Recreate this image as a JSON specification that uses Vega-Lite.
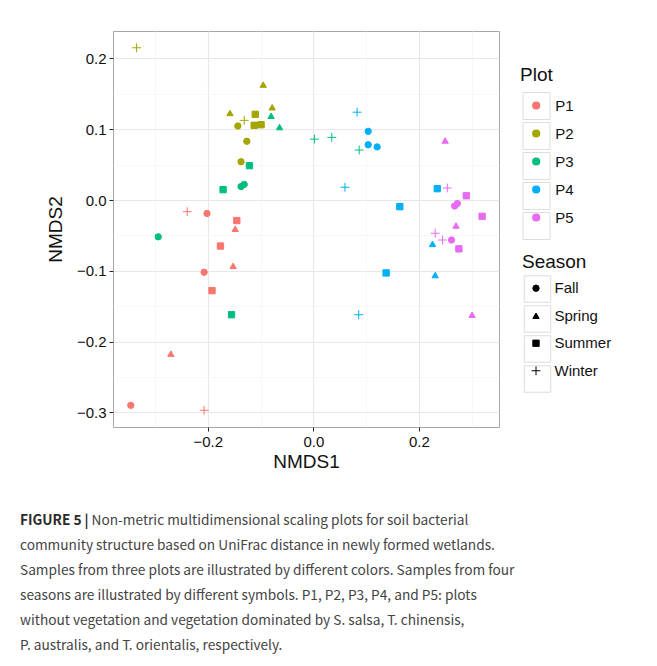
{
  "$schema": "https://vega.github.io/schema/vega-lite/v6.json",
  "width": 386,
  "height": 396,
  "autosize": {"type": "none"},
  "padding": {"left": 113, "top": 31, "right": 158, "bottom": 239},
  "background": "white",
  "config": {
    "font": "Liberation Sans",
    "view": {"stroke": "#a6a6a6", "strokeWidth": 1}
  },
  "title": {
    "text": "FIGURE 5 |",
    "subtitle": [
      "\u200b\u3000\u3000\u3000\u3000\u3000\u00a0Non-metric multidimensional scaling plots for soil bacterial",
      "community structure based on UniFrac distance in newly formed wetlands.",
      "Samples from three plots are illustrated by different colors. Samples from four",
      "seasons are illustrated by different symbols. P1, P2, P3, P4, and P5: plots",
      "without vegetation and vegetation dominated by S. salsa, T. chinensis,",
      "P. australis, and T. orientalis, respectively."
    ],
    "orient": "bottom",
    "anchor": "start",
    "frame": "group",
    "dx": -93,
    "offset": 43,
    "font": "Noto Sans CJK SC",
    "fontSize": 13.7,
    "fontWeight": "bold",
    "color": "#2a2a2a",
    "subtitleFont": "Noto Sans CJK SC",
    "subtitleFontSize": 13.7,
    "subtitleFontWeight": "normal",
    "subtitleColor": "#444444",
    "subtitleLineHeight": 25,
    "subtitlePadding": -13.7
  },
  "data": {
    "values": [
      {"NMDS1": -0.239, "NMDS2": -0.0165, "Plot": "P1", "Season": "Winter"},
      {"NMDS1": -0.2015, "NMDS2": -0.019, "Plot": "P1", "Season": "Fall"},
      {"NMDS1": -0.145, "NMDS2": -0.029, "Plot": "P1", "Season": "Summer"},
      {"NMDS1": -0.148, "NMDS2": -0.0405, "Plot": "P1", "Season": "Spring"},
      {"NMDS1": -0.176, "NMDS2": -0.065, "Plot": "P1", "Season": "Summer"},
      {"NMDS1": -0.152, "NMDS2": -0.093, "Plot": "P1", "Season": "Spring"},
      {"NMDS1": -0.207, "NMDS2": -0.102, "Plot": "P1", "Season": "Fall"},
      {"NMDS1": -0.192, "NMDS2": -0.128, "Plot": "P1", "Season": "Summer"},
      {"NMDS1": -0.27, "NMDS2": -0.217, "Plot": "P1", "Season": "Spring"},
      {"NMDS1": -0.346, "NMDS2": -0.29, "Plot": "P1", "Season": "Fall"},
      {"NMDS1": -0.207, "NMDS2": -0.297, "Plot": "P1", "Season": "Winter"},
      {"NMDS1": -0.335, "NMDS2": 0.215, "Plot": "P2", "Season": "Winter"},
      {"NMDS1": -0.131, "NMDS2": 0.1125, "Plot": "P2", "Season": "Winter"},
      {"NMDS1": -0.095, "NMDS2": 0.163, "Plot": "P2", "Season": "Spring"},
      {"NMDS1": -0.078, "NMDS2": 0.131, "Plot": "P2", "Season": "Spring"},
      {"NMDS1": -0.158, "NMDS2": 0.123, "Plot": "P2", "Season": "Spring"},
      {"NMDS1": -0.11, "NMDS2": 0.121, "Plot": "P2", "Season": "Summer"},
      {"NMDS1": -0.112, "NMDS2": 0.1055, "Plot": "P2", "Season": "Summer"},
      {"NMDS1": -0.099, "NMDS2": 0.1064, "Plot": "P2", "Season": "Summer"},
      {"NMDS1": -0.143, "NMDS2": 0.1045, "Plot": "P2", "Season": "Fall"},
      {"NMDS1": -0.126, "NMDS2": 0.083, "Plot": "P2", "Season": "Fall"},
      {"NMDS1": -0.137, "NMDS2": 0.054, "Plot": "P2", "Season": "Fall"},
      {"NMDS1": -0.08, "NMDS2": 0.119, "Plot": "P3", "Season": "Spring"},
      {"NMDS1": -0.064, "NMDS2": 0.103, "Plot": "P3", "Season": "Spring"},
      {"NMDS1": -0.121, "NMDS2": 0.0485, "Plot": "P3", "Season": "Summer"},
      {"NMDS1": -0.171, "NMDS2": 0.0146, "Plot": "P3", "Season": "Summer"},
      {"NMDS1": -0.155, "NMDS2": -0.162, "Plot": "P3", "Season": "Summer"},
      {"NMDS1": -0.137, "NMDS2": 0.019, "Plot": "P3", "Season": "Fall"},
      {"NMDS1": -0.131, "NMDS2": 0.022, "Plot": "P3", "Season": "Fall"},
      {"NMDS1": -0.294, "NMDS2": -0.052, "Plot": "P3", "Season": "Fall"},
      {"NMDS1": 0.002, "NMDS2": 0.086, "Plot": "P3", "Season": "Winter"},
      {"NMDS1": 0.035, "NMDS2": 0.0885, "Plot": "P3", "Season": "Winter"},
      {"NMDS1": 0.087, "NMDS2": 0.0706, "Plot": "P3", "Season": "Winter"},
      {"NMDS1": 0.083, "NMDS2": 0.124, "Plot": "P4", "Season": "Winter"},
      {"NMDS1": 0.06, "NMDS2": 0.018, "Plot": "P4", "Season": "Winter"},
      {"NMDS1": 0.086, "NMDS2": -0.162, "Plot": "P4", "Season": "Winter"},
      {"NMDS1": 0.104, "NMDS2": 0.097, "Plot": "P4", "Season": "Fall"},
      {"NMDS1": 0.104, "NMDS2": 0.078, "Plot": "P4", "Season": "Fall"},
      {"NMDS1": 0.121, "NMDS2": 0.075, "Plot": "P4", "Season": "Fall"},
      {"NMDS1": 0.235, "NMDS2": 0.016, "Plot": "P4", "Season": "Summer"},
      {"NMDS1": 0.164, "NMDS2": -0.0094, "Plot": "P4", "Season": "Summer"},
      {"NMDS1": 0.138, "NMDS2": -0.103, "Plot": "P4", "Season": "Summer"},
      {"NMDS1": 0.226, "NMDS2": -0.062, "Plot": "P4", "Season": "Spring"},
      {"NMDS1": 0.231, "NMDS2": -0.106, "Plot": "P4", "Season": "Spring"},
      {"NMDS1": 0.25, "NMDS2": 0.084, "Plot": "P5", "Season": "Spring"},
      {"NMDS1": 0.2705, "NMDS2": -0.036, "Plot": "P5", "Season": "Spring"},
      {"NMDS1": 0.301, "NMDS2": -0.162, "Plot": "P5", "Season": "Spring"},
      {"NMDS1": 0.254, "NMDS2": 0.017, "Plot": "P5", "Season": "Winter"},
      {"NMDS1": 0.231, "NMDS2": -0.047, "Plot": "P5", "Season": "Winter"},
      {"NMDS1": 0.245, "NMDS2": -0.0565, "Plot": "P5", "Season": "Winter"},
      {"NMDS1": 0.268, "NMDS2": -0.0085, "Plot": "P5", "Season": "Fall"},
      {"NMDS1": 0.273, "NMDS2": -0.005, "Plot": "P5", "Season": "Fall"},
      {"NMDS1": 0.262, "NMDS2": -0.0565, "Plot": "P5", "Season": "Fall"},
      {"NMDS1": 0.29, "NMDS2": 0.006, "Plot": "P5", "Season": "Summer"},
      {"NMDS1": 0.32, "NMDS2": -0.023, "Plot": "P5", "Season": "Summer"},
      {"NMDS1": 0.276, "NMDS2": -0.069, "Plot": "P5", "Season": "Summer"}
    ]
  },
  "layer": [
    {
      "mark": {"type": "point", "filled": true, "size": 40, "strokeWidth": 1, "opacity": 1},
      "encoding": {
        "x": {
          "field": "NMDS1",
          "type": "quantitative",
          "scale": {"domain": [-0.3797, 0.352], "nice": false, "zero": false},
          "axis": {
            "title": "NMDS1",
            "values": [-0.3, -0.2, -0.1, 0, 0.1, 0.2, 0.3],
            "labelExpr": "abs(round(datum.value*10)) % 2 == 0 ? format(datum.value, '.1f') : ''",
            "domain": false,
            "grid": true,
            "gridColor": {"condition": {"test": "abs(round(datum.value*10)) % 2 == 0", "value": "#e8e8e8"}, "value": "#f3f3f3"},
            "gridWidth": {"condition": {"test": "abs(round(datum.value*10)) % 2 == 0", "value": 1.2}, "value": 0.7},
            "tickOpacity": {"condition": {"test": "abs(round(datum.value*10)) % 2 == 0", "value": 1}, "value": 0},
            "tickColor": "#222222",
            "tickSize": 4,
            "labelFontSize": 15,
            "labelColor": "#111111",
            "labelPadding": 3,
            "titleFontSize": 19,
            "titleFontWeight": "normal",
            "titleColor": "#111111",
            "titlePadding": 3
          }
        },
        "y": {
          "field": "NMDS2",
          "type": "quantitative",
          "scale": {"domain": [-0.3206, 0.2387], "nice": false, "zero": false},
          "axis": {
            "title": "NMDS2",
            "values": [-0.3, -0.25, -0.2, -0.15, -0.1, -0.05, 0, 0.05, 0.1, 0.15, 0.2],
            "labelExpr": "abs(round(datum.value*20)) % 2 == 0 ? format(datum.value, '.1f') : ''",
            "domain": false,
            "grid": true,
            "gridColor": {"condition": {"test": "abs(round(datum.value*20)) % 2 == 0", "value": "#e8e8e8"}, "value": "#f3f3f3"},
            "gridWidth": {"condition": {"test": "abs(round(datum.value*20)) % 2 == 0", "value": 1.2}, "value": 0.7},
            "tickOpacity": {"condition": {"test": "abs(round(datum.value*20)) % 2 == 0", "value": 1}, "value": 0},
            "tickColor": "#222222",
            "tickSize": 4,
            "labelFontSize": 15,
            "labelColor": "#111111",
            "labelPadding": 3,
            "titleFontSize": 19,
            "titleFontWeight": "normal",
            "titleColor": "#111111",
            "titlePadding": 11
          }
        },
        "fill": {
          "field": "Plot",
          "type": "nominal",
          "scale": {"domain": ["P1", "P2", "P3", "P4", "P5"], "range": ["#F8766D", "#A3A500", "#00BF7D", "#00B0F6", "#E76BF3"]},
          "legend": {
            "title": "Plot",
            "orient": "none",
            "legendX": 407,
            "legendY": 35,
            "padding": 0,
            "symbolType": "circle",
            "symbolSize": 45,
            "symbolOffset": 8.7,
            "titleFontSize": 19,
            "titleFontWeight": "normal",
            "titleColor": "#111111",
            "titlePadding": 13,
            "labelFontSize": 15,
            "labelColor": "#111111",
            "labelOffset": 11.5,
            "rowPadding": 12
          }
        },
        "stroke": {
          "field": "Plot",
          "type": "nominal",
          "scale": {"domain": ["P1", "P2", "P3", "P4", "P5"], "range": ["#F8766D", "#A3A500", "#00BF7D", "#00B0F6", "#E76BF3"]},
          "legend": null
        },
        "shape": {
          "field": "Season",
          "type": "nominal",
          "scale": {"domain": ["Fall", "Spring", "Summer", "Winter"], "range": ["circle", "triangle-up", "square", "M-1.4,0H1.4M0,-1.4V1.4"]},
          "legend": {
            "title": "Season",
            "orient": "none",
            "legendX": 409,
            "legendY": 222,
            "padding": 0,
            "symbolSize": 40,
            "symbolOffset": 6.5,
            "symbolFillColor": "black",
            "symbolStrokeColor": "black",
            "symbolStrokeWidth": 1,
            "titleFontSize": 19,
            "titleFontWeight": "normal",
            "titleColor": "#111111",
            "titlePadding": 8.75,
            "labelFontSize": 15,
            "labelColor": "#111111",
            "labelOffset": 11,
            "rowPadding": 11.5
          }
        }
      }
    },
    {
      "transform": [{"filter": "false"}],
      "mark": {"type": "point", "filled": false, "color": "#cfcfcf", "strokeWidth": 1},
      "encoding": {
        "shape": {
          "field": "Plot",
          "type": "nominal",
          "scale": {"domain": ["P1", "P2", "P3", "P4", "P5"], "range": ["square", "square", "square", "square", "square"]},
          "legend": {
            "title": "Plot",
            "titleOpacity": 0,
            "orient": "none",
            "legendX": 407,
            "legendY": 35,
            "padding": 0,
            "symbolSize": 729,
            "symbolOffset": 2.5,
            "symbolFillColor": "transparent",
            "symbolStrokeColor": "#cfcfcf",
            "symbolStrokeWidth": 1,
            "titleFontSize": 19,
            "titleFontWeight": "normal",
            "titlePadding": 7,
            "labelExpr": "''",
            "labelFontSize": 15,
            "rowPadding": -3.2
          }
        }
      }
    },
    {
      "transform": [{"filter": "false"}],
      "mark": {"type": "point", "filled": false, "color": "#cfcfcf", "strokeWidth": 1},
      "encoding": {
        "shape": {
          "field": "Season",
          "type": "nominal",
          "scale": {"domain": ["Fall", "Spring", "Summer", "Winter"], "range": ["square", "square", "square", "square"]},
          "legend": {
            "title": "Season",
            "titleOpacity": 0,
            "orient": "none",
            "legendX": 409,
            "legendY": 222,
            "padding": 0,
            "symbolSize": 702,
            "symbolOffset": 1.5,
            "symbolFillColor": "transparent",
            "symbolStrokeColor": "#cfcfcf",
            "symbolStrokeWidth": 1,
            "titleFontSize": 19,
            "titleFontWeight": "normal",
            "titlePadding": 3,
            "labelExpr": "''",
            "labelFontSize": 15,
            "rowPadding": -3.2
          }
        }
      }
    }
  ],
  "resolve": {"scale": {"shape": "independent"}, "legend": {"shape": "independent"}}
}
